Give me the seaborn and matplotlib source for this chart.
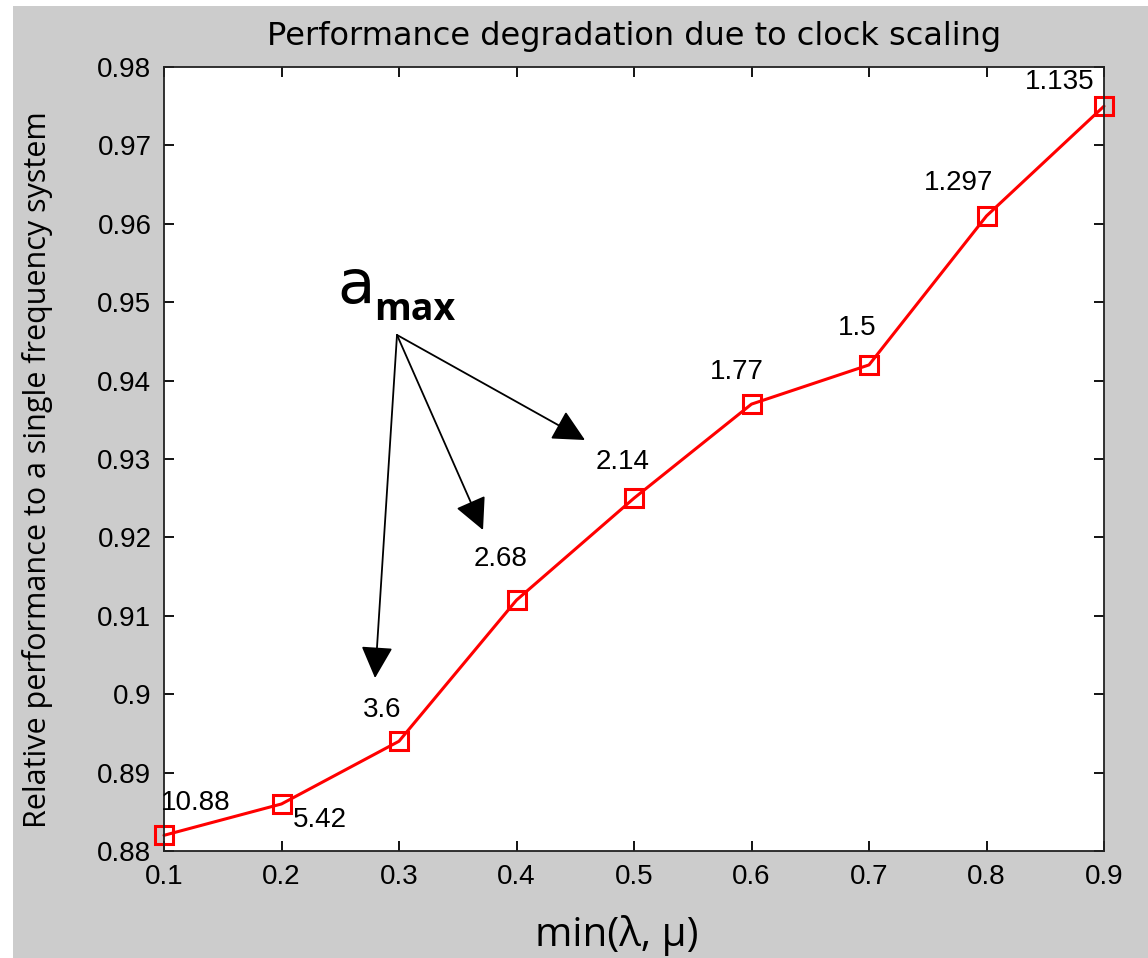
import matplotlib
matplotlib.use("Agg")
import matplotlib.pyplot as plt
from matplotlib.patches import Rectangle
import seaborn as sns
import pandas as pd

# ---- data ----
min_lambda_mu = [0.1, 0.2, 0.3, 0.4, 0.5, 0.6, 0.7, 0.8, 0.9]
relative_perf = [0.882, 0.886, 0.894, 0.912, 0.925, 0.937, 0.942, 0.961, 0.975]
a_max_labels = ["10.88", "5.42", "3.6", "2.68", "2.14", "1.77", "1.5", "1.297", "1.135"]
x_ticks = [0.1, 0.2, 0.3, 0.4, 0.5, 0.6, 0.7, 0.8, 0.9]
y_ticks = [0.88, 0.89, 0.9, 0.91, 0.92, 0.93, 0.94, 0.95, 0.96, 0.97, 0.98]
y_tick_labels = ["0.88", "0.89", "0.9", "0.91", "0.92", "0.93", "0.94", "0.95", "0.96", "0.97", "0.98"]

# label offsets (pixels) relative to each point, layout only
label_offsets_px = [(32, 32), (38, -16), (-17, 31), (-16, 41), (-11, 36),
                    (-15, 32), (-12, 37), (-28, 33), (-44, 24)]

sns.set_theme(style="ticks")
plt.rcParams["font.family"] = ["Liberation Sans", "DejaVu Sans"]
plt.rcParams["text.color"] = "black"
plt.rcParams["axes.labelcolor"] = "black"
plt.rcParams["xtick.color"] = "black"
plt.rcParams["ytick.color"] = "black"

DPI = 100
fig = plt.figure(figsize=(11.48, 9.58), dpi=DPI)
fig.patch.set_facecolor("#cccccc")
fig.patches.append(Rectangle((0, 0), 13 / 1148, 1, transform=fig.transFigure,
                             facecolor="white", edgecolor="none", zorder=-5))
fig.patches.append(Rectangle((0, 1 - 6 / 958), 1, 6 / 958, transform=fig.transFigure,
                             facecolor="white", edgecolor="none", zorder=-5))

ax = fig.add_axes([164 / 1148, (958 - 851) / 958, 940 / 1148, 784 / 958])
ax.set_facecolor("white")

df = pd.DataFrame({"x": min_lambda_mu, "y": relative_perf})
sns.lineplot(data=df, x="x", y="y", ax=ax, color="red", linewidth=2.2,
             marker="s", markersize=13, markerfacecolor="none",
             markeredgecolor="red", markeredgewidth=2.2, clip_on=False)

ax.set_xlim(0.1, 0.9)
ax.set_ylim(0.88, 0.98)
ax.set_xticks(x_ticks)
ax.set_xticklabels([f"{v:g}" for v in x_ticks])
ax.set_yticks(y_ticks)
ax.set_yticklabels(y_tick_labels)
ax.tick_params(direction="in", length=7, width=1.3, labelsize=20, pad=9,
               top=True, right=True, colors="black")
for s in ax.spines.values():
    s.set_visible(True)
    s.set_linewidth(1.3)
    s.set_color("#222222")

ax.set_title("Performance degradation due to clock scaling", fontsize=23, pad=16,
             family=["DejaVu Sans"], color="black")
ax.set_xlabel("min(λ, μ)", fontsize=29, family=["Open Sans", "DejaVu Sans"], color="black")
ax.xaxis.set_label_coords(0.482, -0.082)
ax.set_ylabel("Relative performance to a single frequency system", fontsize=22,
              family=["Open Sans", "DejaVu Sans"], color="black")
ax.yaxis.set_label_coords(-0.118, 0.487)

px2pt = 72 / DPI
for xv, yv, lab, (dx, dy) in zip(min_lambda_mu, relative_perf, a_max_labels, label_offsets_px):
    ax.annotate(lab, (xv, yv), xytext=(dx * px2pt, dy * px2pt), textcoords="offset points",
                ha="center", va="center", fontsize=20, color="black")

# a_max annotation
ax.text(0.2472, 0.9499, "a", fontsize=44, family=["DejaVu Sans"], color="black",
        ha="left", va="baseline")
ax.text(0.2790, 0.94773, "max", fontsize=27, fontweight="bold", color="black",
        family=["Open Sans", "DejaVu Sans"], ha="left", va="baseline")
start = (0.2983, 0.94582)
for end in [(0.4583, 0.93242), (0.3715, 0.92094), (0.2796, 0.90206)]:
    ax.annotate("", xy=end, xytext=start,
                arrowprops=dict(arrowstyle="-|>,head_length=0.9,head_width=0.45",
                                mutation_scale=22, lw=1.3, color="black",
                                shrinkA=0, shrinkB=0))

fig.savefig("out.png", dpi=DPI, facecolor=fig.get_facecolor())
